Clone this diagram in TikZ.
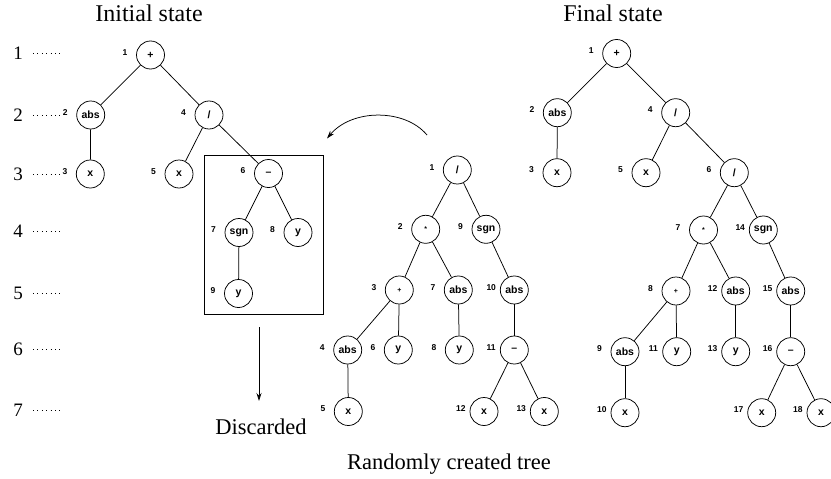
\documentclass[tikz,border=0pt]{standalone}
\usepackage{fontspec}
\setmainfont{Liberation Serif}
\setsansfont{Liberation Sans}
\usetikzlibrary{arrows.meta}
\newcommand{\tn}[5]{%
  \node[tn] (#1) at (#2,#3) {#4};
  \node[nl] (#1l) at ([xshift=-28pt]#1.center) {#5};}
\begin{document}
\begin{tikzpicture}[x=1pt,y=-1pt,
 tn/.style={circle,draw,line width=0.75pt,minimum size=28pt,inner sep=0pt,font=\sffamily\bfseries\fontsize{10.5}{12}\selectfont},
 nl/.style={anchor=base west,inner sep=0pt,font=\sffamily\bfseries\fontsize{8.5}{10}\selectfont},
 edge/.style={line width=0.75pt},
 lvl/.style={anchor=base,inner sep=0pt,font=\fontsize{19}{22}\selectfont},
 dots/.style={line width=0.9pt,dash pattern=on 0.9pt off 3.5pt},
 title/.style={anchor=base,inner sep=0pt,font=\fontsize{24}{28}\selectfont},
 captext/.style={anchor=base,inner sep=0pt,font=\fontsize{22.5}{26}\selectfont},
 arr/.style={line width=0.75pt,-{Stealth[length=8pt,width=5pt]}},
 boxst/.style={draw,line width=0.75pt,inner sep=0pt}]
\useasboundingbox (0,0) rectangle (831,479);

% titles
\node[title] (tinit) at (149,21.7) {Initial state};
\node[title] (tfinal) at (613,21.7) {Final state};

% level markers
\foreach \n/\yy in {1/53,2/115,3/174.5,4/231.5,5/293.5,6/349,7/410.3}{
  \node[lvl] (lv\n) at (18,\yy+6.3) {\n};
  \coordinate (ds\n) at (33,\yy);
  \coordinate (de\n) at (63.5,\yy);
  \draw[dots] (ds\n) -- (de\n);
}

% discarded box
\node[boxst,minimum width=119pt,minimum height=159pt] (box) at (263.7,234.7) {};

% initial tree
\tn{i1}{150.5}{55}{+}{1}
\tn{i2}{90.7}{115}{abs}{2}
\tn{i4}{209}{115}{/}{4}
\tn{i3}{90.3}{174}{x}{3}
\tn{i5}{179}{174}{x}{5}
\tn{i6}{268.5}{173.5}{--}{6}
\tn{i7}{239}{232.5}{sgn}{7}
\tn{i8}{298}{232.5}{y}{8}
\tn{i9}{238.5}{293.5}{y}{9}
\foreach \a/\b in {i1/i2,i1/i4,i2/i3,i4/i5,i4/i6,i6/i7,i6/i8,i7/i9}
  \draw[edge] (\a) -- (\b);

% random tree
\tn{m1}{457.3}{170}{/}{1}
\tn{m2}{425.7}{229.3}{{\fontsize{7}{8}\selectfont *}}{2}
\tn{m9}{486}{229.3}{sgn}{9}
\tn{m3}{399.3}{290}{{\fontsize{7}{8}\selectfont +}}{3}
\tn{m7}{458.3}{290}{abs}{7}
\tn{m10}{514.3}{290}{abs}{10}
\tn{m4}{347.7}{350}{abs}{4}
\tn{m6}{398.3}{350}{y}{6}
\tn{m8}{459.3}{350}{y}{8}
\tn{m11}{514.3}{350}{--}{11}
\tn{m5}{348.3}{411.5}{x}{5}
\tn{m12}{484}{411.5}{x}{12}
\tn{m13}{544.3}{411.5}{x}{13}
\foreach \a/\b in {m1/m2,m1/m9,m2/m3,m2/m7,m3/m4,m3/m6,m7/m8,m9/m10,m10/m11,m11/m12,m11/m13,m4/m5}
  \draw[edge] (\a) -- (\b);

% final tree
\tn{f1}{616.7}{53.5}{+}{1}
\tn{f2}{557.3}{112.7}{abs}{2}
\tn{f4}{675.7}{112.7}{/}{4}
\tn{f3}{557}{172.7}{x}{3}
\tn{f5}{646}{172.7}{x}{5}
\tn{f6}{734.3}{172.7}{/}{6}
\tn{f7}{703.5}{230}{{\fontsize{7}{8}\selectfont *}}{7}
\tn{f14}{763.3}{230}{sgn}{14}
\tn{f8}{676}{291}{{\fontsize{7}{8}\selectfont +}}{8}
\tn{f12}{735.7}{291}{abs}{12}
\tn{f15}{790.7}{291}{abs}{15}
\tn{f9}{625}{351.7}{abs}{9}
\tn{f11}{676.7}{351.7}{y}{11}
\tn{f13}{735.7}{351.7}{y}{13}
\tn{f16}{790.7}{351.7}{--}{16}
\tn{f10}{625}{412.7}{x}{10}
\tn{f17}{761.7}{412.7}{x}{17}
\tn{f18}{821}{412.7}{x}{18}
\foreach \a/\b in {f1/f2,f1/f4,f2/f3,f4/f5,f4/f6,f6/f7,f6/f14,f7/f8,f7/f12,f8/f9,f8/f11,f9/f10,f12/f13,f14/f15,f15/f16,f16/f17,f16/f18}
  \draw[edge] (\a) -- (\b);

% curved arrow from random tree to box
\coordinate (cs) at (427,135);
\coordinate (ce) at (327,138.5);
\draw[arr] (cs) .. controls (405,108.5) and (352,108.5) .. (ce);

% discarded arrow
\coordinate (das) at (259,327);
\coordinate (dae) at (259,401);
\draw[arr] (das) -- (dae);

\node[captext] (disc) at (261,434) {Discarded};
\node[captext] (rnd) at (449,469.3) {Randomly created tree};
\end{tikzpicture}
\end{document}
